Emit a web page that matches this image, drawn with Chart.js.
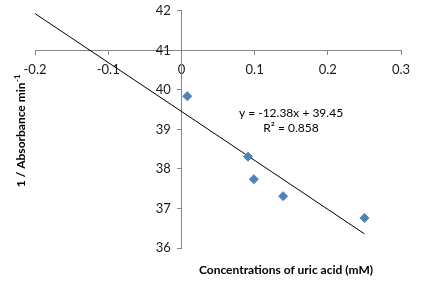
<!DOCTYPE html>
<html>
<head>
<meta charset="utf-8">
<script src="https://cdn.jsdelivr.net/npm/chart.js@4"></script>
<style>
  html, body { margin: 0; padding: 0; background: #fff; }
  #wrap { width: 426px; height: 293px; }
</style>
</head>
<body>
<div id="wrap"><canvas id="graph"></canvas></div>
<script>
// data
var concX = [0.008, 0.091, 0.099, 0.139, 0.25];
var invAbs = [39.84, 38.31, 37.74, 37.31, 36.76];
// linear trendline end points
var trendX = [-0.2, 0.25];
var trendY = [41.93, 36.36];
var xTicks = [-0.2, -0.1, 0, 0.1, 0.2, 0.3];
var yTicks = [36, 37, 38, 39, 40, 41, 42];
var eqText = 'y = -12.38x + 39.45';
var r2Text = 'R\u00B2 = 0.858';
var xTitle = 'Concentrations of uric acid (mM)';
var yTitle = '1 / Absorbance min';
var yTitleSup = '-1';

var FONT = 'Lato, "Open Sans", sans-serif';

// axis titles and trendline equation
var textPlugin = {
  id: 'texts',
  afterDraw: function(chart) {
    var ctx = chart.ctx;
    ctx.save();
    ctx.fillStyle = '#000';
    ctx.textBaseline = 'middle';

    ctx.font = 'bold 12px ' + FONT;
    ctx.textAlign = 'center';
    ctx.fillText(xTitle, 286, 270);

    // rotated y title with superscript
    ctx.translate(21, 131);
    ctx.rotate(-Math.PI / 2);
    ctx.font = 'bold 12px ' + FONT;
    var w1 = ctx.measureText(yTitle).width;
    ctx.font = 'bold 8px ' + FONT;
    var w2 = ctx.measureText(yTitleSup).width;
    var start = -(w1 + w2) / 2;
    ctx.textAlign = 'left';
    ctx.font = 'bold 12px ' + FONT;
    ctx.fillText(yTitle, start, 0);
    ctx.font = 'bold 8px ' + FONT;
    ctx.fillText(yTitleSup, start + w1 + 0.5, -4);
    ctx.restore();

    ctx.save();
    ctx.fillStyle = '#000';
    ctx.textBaseline = 'middle';
    ctx.textAlign = 'center';
    ctx.font = '12px ' + FONT;
    ctx.fillText(eqText, 291, 113);
    ctx.fillText(r2Text, 291, 128);
    ctx.restore();
  }
};

var setYTicks = function(s) { s.ticks = yTicks.map(function(v) { return { value: v }; }); };

var ctx = document.getElementById('graph').getContext('2d');
window.myChart = new Chart(ctx, {
  type: 'scatter',
  data: {
    datasets: [{
      label: 'data',
      data: concX.map(function(x, i) { return { x: x, y: invAbs[i] }; }),
      pointStyle: 'rectRot',
      pointRadius: 4.5,
      pointBorderWidth: 1,
      backgroundColor: '#4F81BD',
      borderColor: '#4F81BD'
    },
    {
      label: 'trend',
      type: 'line',
      data: trendX.map(function(x, i) { return { x: x, y: trendY[i] }; }),
      borderColor: '#000',
      borderWidth: 1,
      pointRadius: 0,
      fill: false
    }]
  },
  options: {
    responsive: true,
    maintainAspectRatio: false,
    animation: false,
    layout: { padding: { left: 35, right: 25, top: 10, bottom: 45 } },
    plugins: {
      legend: { display: false },
      tooltip: { enabled: false }
    },
    scales: {
      x: {
        type: 'linear',
        position: { y: 41 },
        min: -0.2,
        max: 0.3,
        afterBuildTicks: function(s) { s.ticks = xTicks.map(function(v) { return { value: v }; }); },
        afterFit: function(s) { s.height = 0; },
        ticks: { padding: 8, color: '#1a1a1a', font: { family: FONT, size: 13 } },
        grid: { drawOnChartArea: false, drawTicks: true, tickLength: 4, color: '#868686' },
        border: { display: true, color: '#868686' }
      },
      y: {
        type: 'linear',
        position: { x: 0 },
        min: 36,
        max: 42,
        afterBuildTicks: setYTicks,
        afterFit: function(s) { s.width = 0; },
        ticks: { display: false },
        grid: { drawOnChartArea: false, drawTicks: true, tickLength: 4, color: '#868686' },
        border: { display: true, color: '#868686' }
      },
      // labels for the y axis, set a little left of the axis line
      yLabels: {
        type: 'linear',
        axis: 'y',
        position: { x: -0.0145 },
        min: 36,
        max: 42,
        afterBuildTicks: setYTicks,
        afterFit: function(s) { s.width = 0; },
        ticks: { color: '#1a1a1a', font: { family: FONT, size: 13 } },
        grid: { display: false },
        border: { display: false }
      }
    }
  },
  plugins: [textPlugin]
});
</script>
</body>
</html>
